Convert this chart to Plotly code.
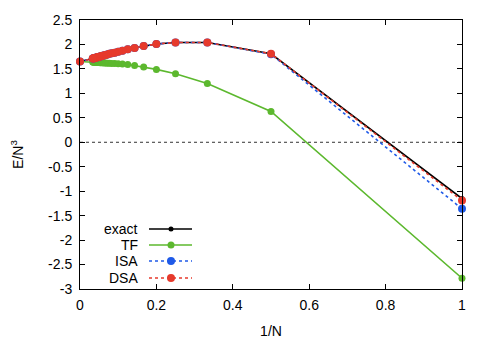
import plotly.graph_objects as go

N = list(range(1, 31))
inv_n = [1.0 / n for n in N] + [0.0]

exact = [-1.15, 1.81, 2.04, 2.04, 2.01, 1.97, 1.93, 1.90, 1.87, 1.85,
         1.83, 1.82, 1.81, 1.795, 1.785, 1.775, 1.77, 1.76, 1.755, 1.75,
         1.745, 1.74, 1.735, 1.73, 1.728, 1.725, 1.72, 1.718, 1.715, 1.712, 1.65]
tf = [-2.78, 0.63, 1.20, 1.40, 1.49, 1.54, 1.57, 1.59, 1.60, 1.605,
      1.61, 1.612, 1.615, 1.618, 1.62, 1.622, 1.624, 1.626, 1.628, 1.63,
      1.631, 1.632, 1.633, 1.634, 1.635, 1.636, 1.637, 1.638, 1.639, 1.64, 1.65]
isa = [-1.36, 1.80] + exact[2:]
dsa = [-1.19, 1.81] + exact[2:]

x_ticks = [0, 0.2, 0.4, 0.6, 0.8, 1]
x_ticktext = ["0", "0.2", "0.4", "0.6", "0.8", "1"]
y_ticks = [2.5, 2, 1.5, 1, 0.5, 0, -0.5, -1, -1.5, -2, -2.5, -3]
y_ticktext = ["2.5", "2", "1.5", "1", "0.5", "0", "-0.5", "-1", "-1.5", "-2", "-2.5", "-3"]

names = ["exact", "TF", "ISA", "DSA"]
colors = ["#000000", "#5cb82e", "#1f5ae8", "#e63a2c"]
dashes = ["solid", "solid", "dot", "dot"]
msizes = [5, 7, 8, 8]
series = [exact, tf, isa, dsa]

fig = go.Figure()
for name, vals, c, d, ms in zip(names, series, colors, dashes, msizes):
    fig.add_trace(go.Scatter(
        x=inv_n, y=vals, mode="lines+markers", name=name,
        line=dict(color=c, width=1.6, dash=d),
        marker=dict(color=c, size=ms), cliponaxis=False, showlegend=False))

# zero reference line
fig.add_shape(type="line", xref="paper", x0=0, x1=1, yref="y", y0=0, y1=0,
              line=dict(color="#333333", width=1, dash="3px,3px"), layer="below")

# page body has an 8px default margin; compensate
OFF = 8
W, H = 491 - OFF, 343 - OFF
L, R, T, B = 80 - OFF, 29, 20 - OFF, 54
pw, ph = W - L - R, H - T - B
def px(xp):
    return (xp - OFF - L) / pw
def py(yp):
    return 1 - (yp - OFF - T) / ph

# gnuplot-style legend (text then sample)
leg_y = [229, 245, 261, 278]
for name, c, d, ms, yy in zip(names, colors, dashes, msizes, leg_y):
    fig.add_annotation(x=px(140), y=py(yy), xref="paper", yref="paper",
                       text=name, showarrow=False, xanchor="right", yanchor="middle",
                       font=dict(size=14, color="black"))
    fig.add_shape(type="line", xref="paper", yref="paper", x0=px(149), x1=px(192),
                  y0=py(yy), y1=py(yy), line=dict(color=c, width=1.6, dash=d))
    r = ms / 2
    fig.add_shape(type="circle", xref="paper", yref="paper",
                  x0=px(171 - r), x1=px(171 + r), y0=py(yy + r), y1=py(yy - r),
                  fillcolor=c, line=dict(color=c, width=0))

axis_common = dict(showline=True, linecolor="black", linewidth=1, mirror="allticks",
                   ticks="inside", ticklen=5, tickcolor="black", showgrid=False,
                   zeroline=False, automargin=False, tickfont=dict(size=14, color="black"))
fig.update_xaxes(range=[0, 1], tickvals=x_ticks, ticktext=x_ticktext,
                 ticklabelstandoff=3,
                 title=dict(text="1/N", font=dict(size=14, color="black"), standoff=14),
                 **axis_common)
fig.update_yaxes(range=[-3, 2.5], tickvals=y_ticks, ticktext=y_ticktext,
                 ticklabelstandoff=4,
                 title=dict(text="E/N<sup>3</sup>", font=dict(size=14, color="black"), standoff=34),
                 **axis_common)
fig.update_layout(width=W, height=H, margin=dict(l=L, r=R, t=T, b=B),
                  paper_bgcolor="white", plot_bgcolor="white",
                  font=dict(family="Liberation Sans, Arial, sans-serif", size=14, color="black"),
                  showlegend=False)
fig.write_html("out.html")
